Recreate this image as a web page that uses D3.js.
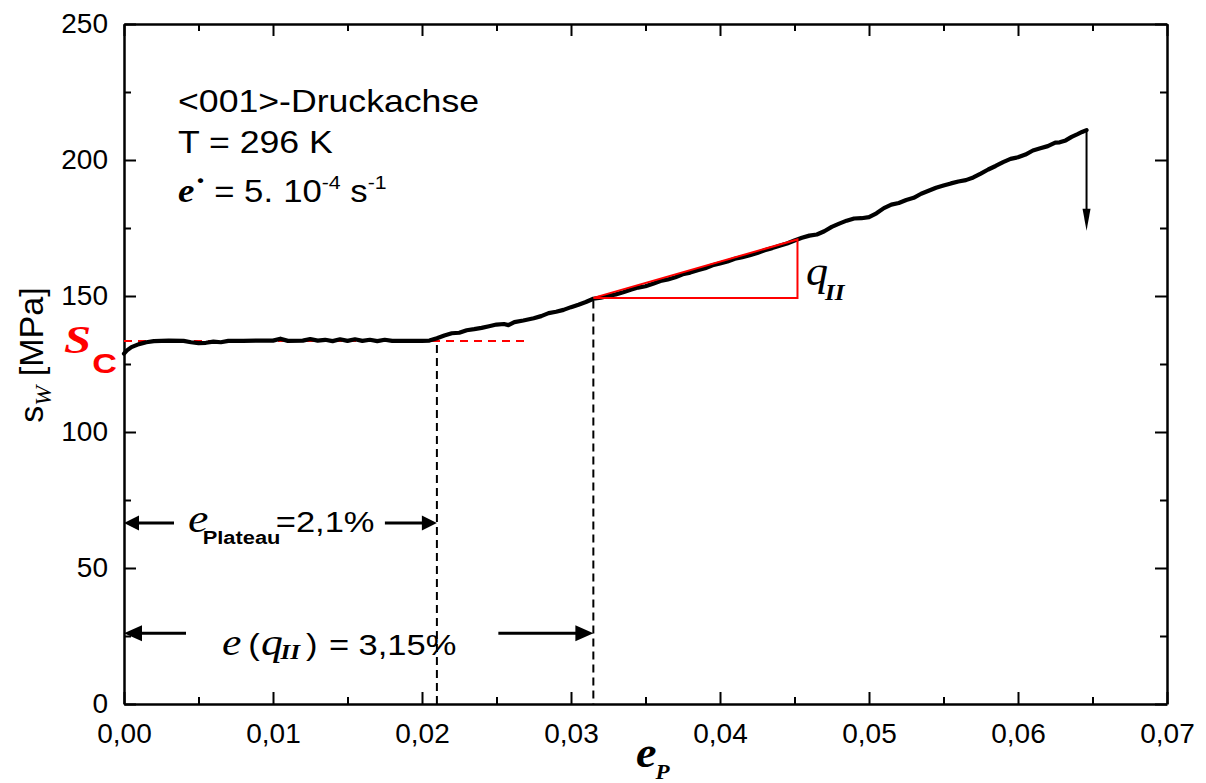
<!DOCTYPE html>
<html>
<head>
<meta charset="utf-8">
<script src="https://cdn.jsdelivr.net/npm/d3@7"></script>
<style>
  body { margin: 0; background: #fff; }
  svg { display: block; }
</style>
</head>
<body>
<svg id="chart" width="1206" height="783"></svg>
<script>
// Compression test, <001> axis, T = 296 K: plastic strain vs. resolved shear stress
const strainP = [
  0.0000, 0.0002, 0.0005, 0.0010, 0.0015, 0.0020, 0.0030, 0.0040, 0.0045, 0.0050,
  0.0055, 0.0060, 0.0065, 0.0070, 0.0080, 0.0090, 0.0100, 0.0105, 0.0110, 0.0120,
  0.0125, 0.0130, 0.0135, 0.0140, 0.0145, 0.0150, 0.0155, 0.0160, 0.0165, 0.0170,
  0.0175, 0.0180, 0.0190, 0.0200, 0.0205, 0.0210, 0.0215, 0.0220, 0.0225, 0.0230,
  0.0235, 0.0240, 0.0245, 0.0250, 0.0255, 0.0258, 0.0262, 0.0268, 0.0275, 0.0280,
  0.0285, 0.0290, 0.0295, 0.0300, 0.0305, 0.0310, 0.0315, 0.0320, 0.0325, 0.0330,
  0.0335, 0.0340, 0.0345, 0.0350, 0.0355, 0.0360, 0.0365, 0.0370, 0.0375, 0.0380,
  0.0385, 0.0390, 0.0395, 0.0400, 0.0405, 0.0410, 0.0415, 0.0420, 0.0425, 0.0430,
  0.0435, 0.0440, 0.0445, 0.0450, 0.0455, 0.0460, 0.0465, 0.0470, 0.0475, 0.0480,
  0.0485, 0.0490, 0.0495, 0.0500, 0.0505, 0.0510, 0.0515, 0.0520, 0.0525, 0.0530,
  0.0535, 0.0540, 0.0545, 0.0550, 0.0555, 0.0560, 0.0565, 0.0570, 0.0575, 0.0580,
  0.0585, 0.0590, 0.0595, 0.0600, 0.0605, 0.0610, 0.0615, 0.0620, 0.0625, 0.0628,
  0.0632, 0.0636, 0.0640, 0.0643, 0.0646
];
const stressW = [
  128.8, 130.0, 131.2, 132.3, 133.0, 133.4, 133.6, 133.5, 133.0, 132.7,
  132.8, 133.2, 133.0, 133.5, 133.5, 133.6, 133.6, 134.3, 133.5, 133.6,
  134.2, 133.6, 133.9, 133.4, 134.1, 133.5, 134.1, 133.5, 133.9, 133.4,
  133.9, 133.5, 133.5, 133.5, 133.6, 134.5, 135.5, 136.3, 136.5, 137.4,
  137.8, 138.3, 138.9, 139.5, 139.7, 139.3, 140.4, 141.0, 141.8, 142.6,
  143.7, 144.2, 144.9, 145.9, 146.8, 147.8, 149.0, 149.4, 150.0, 150.6,
  151.4, 152.3, 153.1, 153.6, 154.5, 155.5, 156.1, 156.9, 158.0, 158.6,
  159.5, 160.2, 161.3, 162.0, 162.7, 163.7, 164.3, 165.0, 165.8, 166.8,
  167.6, 168.5, 169.3, 170.4, 171.4, 172.2, 172.6, 173.8, 175.4, 176.6,
  177.7, 178.5, 178.6, 179.0, 180.4, 182.3, 183.6, 184.2, 185.3, 186.1,
  187.6, 188.7, 189.8, 190.6, 191.4, 192.1, 192.6, 193.6, 195.0, 196.5,
  197.8, 199.2, 200.4, 201.0, 202.0, 203.5, 204.3, 205.1, 206.4, 206.5,
  207.2, 208.5, 209.5, 210.3, 211.0
];

const xTickValues = [0, 0.01, 0.02, 0.03, 0.04, 0.05, 0.06, 0.07];
const xTickLabels = ["0,00", "0,01", "0,02", "0,03", "0,04", "0,05", "0,06", "0,07"];
const xMinorTicks = [0.005, 0.015, 0.025, 0.035, 0.045, 0.055, 0.065];
const yTickValues = [0, 50, 100, 150, 200, 250];
const yTickLabels = ["0", "50", "100", "150", "200", "250"];
const yMinorTicks = [25, 75, 125, 175, 225];

// characteristic values
const sigmaC = 133.5;            // critical shear stress (plateau)
const sigmaCLineEnd = 0.0270;    // extent of the dashed sigma_c guide
const plateauStrain = 0.021;     // end of plateau (2,1 %)
const qStrain = 0.0315;          // onset of stage II (3,15 %)
const qStart = [0.0315, 149.3];  // slope triangle, lower-left corner on the curve
const qEnd = [0.0452, 170.8];    // slope triangle, upper corner on the curve
const fracture = [0.0646, 211.0];
const fractureArrowEnd = 174;
const plateauArrowStress = 66.5;
const qArrowStress = 26;

const W = 1206, H = 783;
const margin = { top: 24, right: 39, bottom: 79, left: 124 };
const iw = W - margin.left - margin.right;
const ih = H - margin.top - margin.bottom;

const sans = "Arial, 'Liberation Sans', Helvetica, sans-serif";
const serif = "'Times New Roman', 'Liberation Serif', Times, serif";
const RED = "#ff0000";
const STRETCH = 1.15;

const svg = d3.select("#chart");
const g = svg.append("g").attr("transform", `translate(${margin.left},${margin.top})`);

const x = d3.scaleLinear().domain([0, 0.07]).range([0, iw]);
const y = d3.scaleLinear().domain([0, 250]).range([ih, 0]);

// ---------- axes (ticks point inward on all four sides) ----------
function styleAxis(sel, width) {
  sel.select(".domain").attr("stroke", "#000").attr("stroke-width", width);
  sel.selectAll(".tick line").attr("stroke", "#000").attr("stroke-width", 2);
  sel.selectAll(".tick text").attr("fill", "#000");
}

const xAxis = g.append("g").attr("transform", `translate(0,${ih})`)
  .call(d3.axisBottom(x).tickValues(xTickValues)
    .tickFormat((d, i) => xTickLabels[i]).tickSizeInner(-12).tickSizeOuter(0).tickPadding(19))
  .attr("font-family", sans).attr("font-size", 28);
styleAxis(xAxis, 2.5);

const xMinor = g.append("g").attr("transform", `translate(0,${ih})`)
  .call(d3.axisBottom(x).tickValues(xMinorTicks).tickFormat("").tickSizeInner(-7).tickSizeOuter(0));
xMinor.select(".domain").remove();
styleAxis(xMinor, 0);

const yAxis = g.append("g")
  .call(d3.axisLeft(y).tickValues(yTickValues)
    .tickFormat((d, i) => yTickLabels[i]).tickSizeInner(-12).tickSizeOuter(0).tickPadding(16))
  .attr("font-family", sans).attr("font-size", 28);
styleAxis(yAxis, 2.5);

const yMinor = g.append("g")
  .call(d3.axisLeft(y).tickValues(yMinorTicks).tickFormat("").tickSizeInner(-7).tickSizeOuter(0));
yMinor.select(".domain").remove();
styleAxis(yMinor, 0);

const xTop = g.append("g")
  .call(d3.axisTop(x).tickValues(xTickValues).tickFormat("").tickSizeInner(-12).tickSizeOuter(0));
styleAxis(xTop, 2.5);
const xTopMinor = g.append("g")
  .call(d3.axisTop(x).tickValues(xMinorTicks).tickFormat("").tickSizeInner(-7).tickSizeOuter(0));
xTopMinor.select(".domain").remove();
styleAxis(xTopMinor, 0);

const yRight = g.append("g").attr("transform", `translate(${iw},0)`)
  .call(d3.axisRight(y).tickValues(yTickValues).tickFormat("").tickSizeInner(-12).tickSizeOuter(0));
styleAxis(yRight, 2.5);
const yRightMinor = g.append("g").attr("transform", `translate(${iw},0)`)
  .call(d3.axisRight(y).tickValues(yMinorTicks).tickFormat("").tickSizeInner(-7).tickSizeOuter(0));
yRightMinor.select(".domain").remove();
styleAxis(yRightMinor, 0);

// ---------- guides ----------
// dashed sigma_c level
g.append("line")
  .attr("x1", x(0)).attr("x2", x(sigmaCLineEnd))
  .attr("y1", y(sigmaC)).attr("y2", y(sigmaC))
  .attr("stroke", RED).attr("stroke-width", 2).attr("stroke-dasharray", "8,6");

// dashed drop lines at end of plateau and at onset of stage II
[[plateauStrain, sigmaC - 1.5], [qStrain, qStart[1] - 1]].forEach(([sx, sy]) => {
  g.append("line")
    .attr("x1", x(sx)).attr("x2", x(sx))
    .attr("y1", y(sy)).attr("y2", y(0))
    .attr("stroke", "#000").attr("stroke-width", 2).attr("stroke-dasharray", "8,5");
});

// ---------- stress-strain curve ----------
const curve = strainP.map((d, i) => [d, stressW[i]]);
g.append("path")
  .datum(curve)
  .attr("fill", "none").attr("stroke", "#000").attr("stroke-width", 4.2)
  .attr("stroke-linejoin", "round").attr("stroke-linecap", "round")
  .attr("d", d3.line().x(d => x(d[0])).y(d => y(d[1])));

// slope triangle for stage II hardening
g.append("path")
  .attr("fill", "none").attr("stroke", RED).attr("stroke-width", 2)
  .attr("d", d3.line()([
    [x(qStart[0]), y(qStart[1])],
    [x(qEnd[0]), y(qEnd[1])],
    [x(qEnd[0]), y(qStart[1])],
    [x(qStart[0]), y(qStart[1])]
  ]));

// fracture arrow
const fx = x(fracture[0]);
g.append("line")
  .attr("x1", fx).attr("x2", fx)
  .attr("y1", y(fracture[1])).attr("y2", y(fractureArrowEnd) - 18)
  .attr("stroke", "#000").attr("stroke-width", 2);
g.append("path")
  .attr("fill", "#000")
  .attr("d", `M${fx - 4},${y(fractureArrowEnd) - 22} L${fx + 4},${y(fractureArrowEnd) - 22} L${fx},${y(fractureArrowEnd)} Z`);

// horizontal dimension arrows
function arrowHead(tipX, yy, dir, len, half) {
  g.append("path").attr("fill", "#000")
    .attr("d", `M${tipX},${yy} L${tipX - dir * len},${yy - half} L${tipX - dir * len},${yy + half} Z`);
}
function shaft(x1, x2, yy) {
  g.append("line").attr("x1", x1).attr("x2", x2).attr("y1", yy).attr("y2", yy)
    .attr("stroke", "#000").attr("stroke-width", 3);
}
{
  const yy = y(plateauArrowStress);
  const l = x(0), r = x(plateauStrain);
  arrowHead(l, yy, -1, 15, 7.5); shaft(l + 12, l + 50, yy);
  arrowHead(r, yy, 1, 15, 7.5); shaft(r - 52, r - 12, yy);
}
{
  const yy = y(qArrowStress);
  const l = x(0), r = x(qStrain);
  arrowHead(l, yy, -1, 18, 8); shaft(l + 14, l + 62, yy);
  arrowHead(r, yy, 1, 18, 8); shaft(r - 95, r - 14, yy);
}

// ---------- text ----------
// every annotation is a single text element, horizontally widened
function label(px, py, sx) {
  return svg.append("g")
    .attr("transform", `translate(${px},${py}) scale(${sx ?? STRETCH},1)`)
    .append("text")
    .attr("font-family", sans)
    .attr("font-size", 30)
    .attr("fill", "#000");
}
function part(t, txt, opts = {}) {
  const s = t.append("tspan").text(txt);
  if (opts.family) s.attr("font-family", opts.family);
  if (opts.size) s.attr("font-size", opts.size);
  if (opts.style) s.attr("font-style", opts.style);
  if (opts.weight) s.attr("font-weight", opts.weight);
  if (opts.fill) s.attr("fill", opts.fill);
  if (opts.dx) s.attr("dx", opts.dx);
  if (opts.dy) s.attr("dy", opts.dy);
  return s;
}

// test conditions
part(label(178, 112), "<001>-Druckachse").attr("font-size", 31);
part(label(178, 153), "T = 296 K").attr("font-size", 31);
{
  const t = label(178, 202, 1.12);
  part(t, "e", { family: serif, style: "italic", weight: "bold", size: 33 });
  part(t, "˙", { family: serif, weight: "bold", size: 32, dy: -2 });
  part(t, "= 5.", { dx: 7, dy: 2, size: 31 });
  part(t, "10", { dx: 9, size: 31 });
  part(t, "-4", { size: 19, dy: -13 });
  part(t, " s", { size: 31, dy: 13 });
  part(t, "-1", { size: 19, dy: -13 });
}

// sigma_c
{
  const t = label(64, 353, 1.22);
  part(t, "S", { family: serif, style: "italic", weight: "bold", size: 40, fill: RED });
  part(t, "C", { weight: "bold", size: 28, fill: RED, dx: 1, dy: 20 });
}

// q_II at the slope triangle
{
  const t = label(806, 285, 1.05);
  part(t, "q", { family: serif, style: "italic", size: 42 });
  part(t, "II", { family: serif, style: "italic", weight: "bold", size: 24, dx: -3, dy: 15 });
}

// plateau strain
{
  const t = label(188, 532);
  part(t, "e", { family: serif, style: "italic", size: 40 });
  part(t, "Plateau", { weight: "bold", size: 19, dx: -5, dy: 12 });
  part(t, "=2,1%", { dx: -4, dy: -12 });
}

// strain at onset of stage II
{
  const t = label(222, 655);
  part(t, "e", { family: serif, style: "italic", size: 38 });
  part(t, "(", { dx: 6 });
  part(t, "q", { family: serif, style: "italic", size: 38, dx: 1 });
  part(t, "II", { family: serif, style: "italic", weight: "bold", size: 22, dx: -2, dy: 4 });
  part(t, ")", { dx: 5, dy: -4 });
  part(t, "= 3,15%", { dx: 10 });
}

// x axis title
{
  const t = label(636, 767, 1.05);
  part(t, "e", { family: serif, style: "italic", weight: "bold", size: 44 });
  part(t, "P", { family: serif, style: "italic", weight: "bold", size: 22, dx: -1, dy: 12 });
}

// y axis title
{
  const t = svg.append("text")
    .attr("transform", "translate(43,355) rotate(-90)")
    .attr("text-anchor", "middle")
    .attr("font-family", sans).attr("font-size", 34).attr("fill", "#000");
  t.append("tspan").text("s");
  t.append("tspan").attr("font-family", serif).attr("font-style", "italic")
    .attr("font-size", 24).attr("dy", 8).text("W");
  t.append("tspan").attr("dy", -8).text(" [MPa]");
}
</script>
</body>
</html>
